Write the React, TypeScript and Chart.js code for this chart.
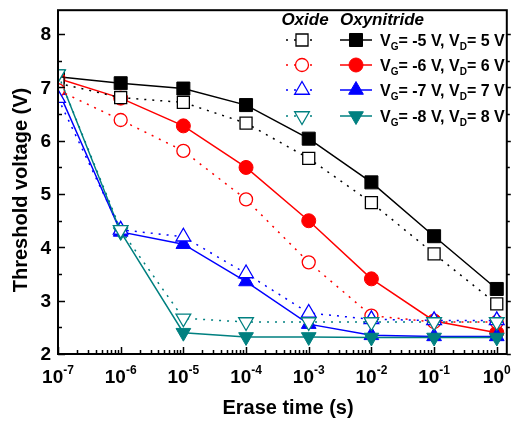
import React, { useEffect, useRef } from 'react';
import { Chart, registerables } from 'chart.js';

Chart.register(...registerables);

const W = 517;
const H = 428;

// Erase time (s)
const eraseTimes = [1e-7, 1e-6, 1e-5, 1e-4, 1e-3, 1e-2, 1e-1, 1];

// Oxide (open markers, dotted)
const oxideVg5 = [7.08, 6.81, 6.72, 6.33, 5.67, 4.84, 3.88, 2.94];
const oxideVg6 = [6.95, 6.39, 5.81, 4.9, 3.72, 2.72, 2.6, 2.6];
const oxideVg7 = [6.8, 4.33, 4.2, 3.51, 2.77, 2.65, 2.63, 2.63];
const oxideVg8 = [7.25, 4.33, 2.67, 2.6, 2.6, 2.6, 2.6, 2.6];

// Oxynitride (filled markers, solid)
const oxyVg5 = [7.2, 7.08, 6.98, 6.67, 6.04, 5.22, 4.21, 3.22];
const oxyVg6 = [7.17, 6.8, 6.28, 5.5, 4.5, 3.41, 2.62, 2.4];
const oxyVg7 = [6.95, 4.29, 4.06, 3.36, 2.56, 2.35, 2.33, 2.33];
const oxyVg8 = [7.25, 4.29, 2.4, 2.32, 2.32, 2.31, 2.31, 2.31];

const yTickValues = [2, 3, 4, 5, 6, 7, 8];
const xTickExponents = [-7, -6, -5, -4, -3, -2, -1, 0];
const legendGate = ['-5', '-6', '-7', '-8'];
const legendDrain = ['5', '6', '7', '8'];
const legendHeaders = ['Oxide', 'Oxynitride'];
const xTitle = 'Erase time (s)';
const yTitle = 'Threshold voltage (V)';

const colors = ['#000000', '#ff0000', '#0000ff', '#008080'];
const shapes = ['rect', 'circle', 'triangle', 'triangle'];
const rotations = [0, 0, 0, 180];
const openRadius = [8.5, 6.5, 8.5, 8.5];
const fillRadius = [9.2, 7, 8.5, 8.5];

const FONT = "'Liberation Sans', Arial, Helvetica, sans-serif";

function drawMarker(ctx: CanvasRenderingContext2D, shape: string, rot: number, x: number, y: number, r: number, fill: string, stroke: string, lw: number) {
  ctx.save();
  ctx.beginPath();
  if (shape === 'rect') {
    const s = Math.SQRT1_2 * r;
    ctx.rect(x - s, y - s, 2 * s, 2 * s);
  } else if (shape === 'circle') {
    ctx.arc(x, y, r, 0, Math.PI * 2);
  } else {
    let a = (rot * Math.PI) / 180;
    for (let k = 0; k < 3; k++) {
      const px = x + Math.sin(a) * r;
      const py = y - Math.cos(a) * r;
      if (k === 0) ctx.moveTo(px, py);
      else ctx.lineTo(px, py);
      a += (2 * Math.PI) / 3;
    }
    ctx.closePath();
  }
  ctx.fillStyle = fill;
  ctx.fill();
  ctx.lineWidth = lw;
  ctx.strokeStyle = stroke;
  ctx.stroke();
  ctx.restore();
}

const framePlugin = {
  id: 'framePlugin',
  afterDraw(chart: any) {
    const ctx: CanvasRenderingContext2D = chart.ctx;
    const { left, right, top, bottom } = chart.chartArea;
    const xs = chart.scales.x;
    const ys = chart.scales.y;
    ctx.save();
    ctx.strokeStyle = '#000';
    ctx.fillStyle = '#000';

    // ticks
    ctx.lineWidth = 1.5;
    ctx.beginPath();
    for (let v = 2; v <= 8.45; v += 0.5) {
      const py = Math.round(ys.getPixelForValue(v)) + 0.5;
      const major = Math.abs(v - Math.round(v)) < 1e-6;
      const len = major ? 7 : 4;
      ctx.moveTo(left, py);
      ctx.lineTo(left + len, py);
      ctx.moveTo(right, py);
      ctx.lineTo(right + (major ? 4 : 3), py);
    }
    for (let e = -7; e <= 0; e++) {
      for (let k = 1; k <= 9; k++) {
        const val = k * Math.pow(10, e);
        if (val > xs.max) break;
        const px = Math.round(xs.getPixelForValue(val)) + 0.5;
        const len = k === 1 ? 7 : 4;
        ctx.moveTo(px, bottom);
        ctx.lineTo(px, bottom - len);
      }
    }
    ctx.stroke();

    // frame
    ctx.lineWidth = 2;
    ctx.strokeRect(left, top, right - left, bottom - top);

    // y tick labels
    ctx.font = `bold 19px ${FONT}`;
    ctx.textAlign = 'right';
    ctx.textBaseline = 'middle';
    yTickValues.forEach((v) => {
      ctx.fillText(String(v), 51, ys.getPixelForValue(v) + 1);
    });

    // x tick labels 10^n
    xTickExponents.forEach((e) => {
      const px = xs.getPixelForValue(Math.pow(10, e));
      ctx.font = `bold 19px ${FONT}`;
      const base = '10';
      const bw = ctx.measureText(base).width;
      ctx.font = `bold 12px ${FONT}`;
      const sup = String(e);
      const sw = ctx.measureText(sup).width;
      const total = bw + sw;
      const x0 = px - total / 2;
      ctx.textAlign = 'left';
      ctx.textBaseline = 'alphabetic';
      ctx.font = `bold 19px ${FONT}`;
      ctx.fillText(base, x0, 383);
      ctx.font = `bold 12px ${FONT}`;
      ctx.fillText(sup, x0 + bw, 374);
    });

    // axis titles
    ctx.font = `bold 20px ${FONT}`;
    ctx.textAlign = 'center';
    ctx.textBaseline = 'middle';
    ctx.fillText(xTitle, 288, 408);
    ctx.save();
    ctx.translate(21, 190);
    ctx.rotate(-Math.PI / 2);
    ctx.fillText(yTitle, 0, 0);
    ctx.restore();

    // legend
    ctx.font = `italic bold 17px ${FONT}`;
    ctx.textAlign = 'center';
    ctx.fillText(legendHeaders[0], 305, 20);
    ctx.fillText(legendHeaders[1], 382, 20);
    const rowsY = [40, 65, 90, 116];
    for (let i = 0; i < 4; i++) {
      const y = rowsY[i];
      // oxide sample
      ctx.save();
      ctx.strokeStyle = colors[i];
      ctx.lineWidth = 1.5;
      ctx.setLineDash([2, 6]);
      ctx.beginPath();
      ctx.moveTo(286, y);
      ctx.lineTo(318, y);
      ctx.stroke();
      ctx.restore();
      drawMarker(ctx, shapes[i], rotations[i], 302, y, openRadius[i], '#ffffff', colors[i], 1.3);
      // oxynitride sample
      ctx.save();
      ctx.strokeStyle = colors[i];
      ctx.lineWidth = 1.5;
      ctx.beginPath();
      ctx.moveTo(340, y);
      ctx.lineTo(372, y);
      ctx.stroke();
      ctx.restore();
      drawMarker(ctx, shapes[i], rotations[i], 356, y, fillRadius[i], colors[i], colors[i], 1);
      // label
      let x = 380;
      ctx.fillStyle = '#000';
      ctx.textAlign = 'left';
      ctx.textBaseline = 'alphabetic';
      const base = y + 6;
      const parts: [string, boolean][] = [
        ['V', false], ['G', true], [`= ${legendGate[i]} V, V`, false], ['D', true], [`= ${legendDrain[i]} V`, false],
      ];
      parts.forEach(([t, sub]) => {
        ctx.font = sub ? `bold 10px ${FONT}` : `bold 16px ${FONT}`;
        ctx.fillText(t, x, sub ? base + 4 : base);
        x += ctx.measureText(t).width;
      });
    }
    ctx.restore();
  },
};

function makeData(values: number[]) {
  return eraseTimes.map((t, j) => ({ x: t, y: values[j] }));
}

export default function App() {
  const ref = useRef<HTMLCanvasElement | null>(null);
  useEffect(() => {
    if (!ref.current) return;
    const oxide = [oxideVg5, oxideVg6, oxideVg7, oxideVg8];
    const oxy = [oxyVg5, oxyVg6, oxyVg7, oxyVg8];
    const datasets: any[] = [];
    for (let i = 0; i < 4; i++) {
      datasets.push({
        label: `Oxide ${i}`,
        data: makeData(oxide[i]),
        borderColor: colors[i],
        borderWidth: 1.5,
        borderDash: [2, 6],
        pointStyle: shapes[i],
        pointRotation: rotations[i],
        pointRadius: openRadius[i],
        pointBackgroundColor: '#ffffff',
        pointBorderColor: colors[i],
        pointBorderWidth: 1.3,
        fill: false,
        tension: 0,
        clip: 0,
        order: 3 - i,
      });
    }
    for (let i = 0; i < 4; i++) {
      datasets.push({
        label: `Oxynitride ${i}`,
        data: makeData(oxy[i]),
        borderColor: colors[i],
        borderWidth: 1.5,
        pointStyle: shapes[i],
        pointRotation: rotations[i],
        pointRadius: fillRadius[i],
        pointBackgroundColor: colors[i],
        pointBorderColor: colors[i],
        pointBorderWidth: 1,
        fill: false,
        tension: 0,
        clip: 0,
        order: 7 - i,
      });
    }
    const chart = new Chart(ref.current, {
      type: 'line',
      data: { datasets },
      options: {
        responsive: false,
        animation: false,
        layout: { padding: { top: 10, right: 4.5, left: 0, bottom: 0 } },
        plugins: { legend: { display: false }, tooltip: { enabled: false } },
        scales: {
          x: {
            type: 'logarithmic',
            min: 1e-7,
            max: Math.pow(10, 0.16),
            ticks: { display: false },
            grid: { display: false, drawTicks: false },
            border: { display: false },
            afterFit: (s: any) => { s.height = 74; },
          },
          y: {
            type: 'linear',
            min: 2,
            max: 8.45,
            ticks: { display: false },
            grid: { display: false, drawTicks: false },
            border: { display: false },
            afterFit: (s: any) => { s.width = 58; },
          },
        },
      },
      plugins: [framePlugin],
    });
    return () => chart.destroy();
  }, []);
  return (
    <div style={{ position: 'fixed', left: 0, top: 0, width: W, height: H, background: '#fff' }}>
      <canvas ref={ref} width={W} height={H} style={{ display: 'block' }} />
    </div>
  );
}
